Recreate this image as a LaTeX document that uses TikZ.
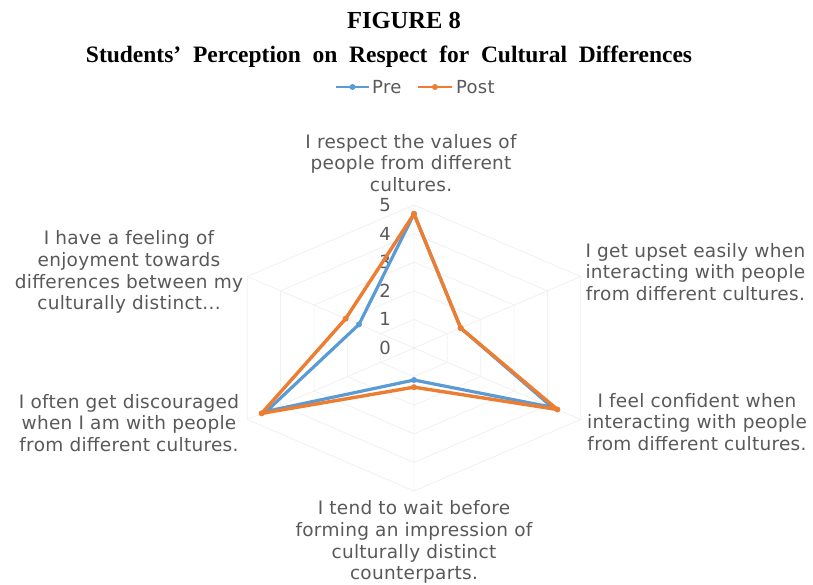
\documentclass[tikz,border=0pt]{standalone}
\usepackage{fontspec}
\setmainfont{DejaVu Sans}[LetterSpace=1.5]
\newfontfamily\titlefont{Liberation Serif}
\definecolor{preblue}{HTML}{5B9BD5}
\definecolor{postorange}{HTML}{ED7D31}
\definecolor{labelgray}{HTML}{595959}
\definecolor{gridgray}{HTML}{F0F0F0}

\tikzset{
  axislabel/.style={align=center, text=labelgray, font=\fontsize{18.5}{21.8}\selectfont},
  ticklabel/.style={text=labelgray, font=\fontsize{18}{20}\selectfont},
  preline/.style={draw=preblue, line width=3.2pt, line join=round},
  postline/.style={draw=postorange, line width=3.4pt, line join=round},
  dot/.style={circle, inner sep=0pt, minimum size=6pt}
}

\begin{document}
\begin{tikzpicture}[x=1pt,y=-1pt]
\useasboundingbox (0,0) rectangle (813,584);

\node[font=\titlefont\bfseries\fontsize{24.5}{28}\selectfont] at (404,20) (fig) {FIGURE 8};
\node[font=\titlefont\bfseries\fontsize{23.5}{26}\selectfont] at (389,57) (title) {Students’ \ Perception \ on \ Respect \ for \ Cultural \ Differences};

% legend
\coordinate (preA) at (336,87);
\coordinate (preB) at (369,87);
\coordinate (postA) at (418,87);
\coordinate (postB) at (452,87);
\path[preline, line width=2.4pt] (preA) to (preB);
\path[postline, line width=2.4pt] (postA) to (postB);
\node[dot, fill=preblue] at (352.5,87) (prem) {};
\node[dot, fill=postorange] at (435,87) (postm) {};
\node[ticklabel, anchor=west, inner sep=1pt] at (371,87) (pre) {Pre};
\node[ticklabel, anchor=west, inner sep=1pt] at (455,87) (post) {Post};

\begin{scope}[shift={(414,348)}, x=38.5pt, y=28.6pt]
% grid
\foreach \k in {1,...,5}
  \draw[gridgray, line width=0.8pt] (0,\k) -- (0.866*\k,0.5*\k) -- (0.866*\k,-0.5*\k) -- (0,-\k)
    -- (-0.866*\k,-0.5*\k) -- (-0.866*\k,0.5*\k) -- cycle;
\coordinate (o) at (0,0);
\coordinate (g1) at (0,5);
\coordinate (g2) at (4.33,2.5);
\coordinate (g3) at (4.33,-2.5);
\coordinate (g4) at (0,-5);
\coordinate (g5) at (-4.33,-2.5);
\coordinate (g6) at (-4.33,2.5);
\path[draw, gridgray, line width=0.8pt] (o) -- (g1) (o) -- (g2) (o) -- (g3) (o) -- (g4) (o) -- (g5) (o) -- (g6);

% tick labels
\node[ticklabel] at (-0.75,0) (t0) {0};
\node[ticklabel] at (-0.75,1) (t1) {1};
\node[ticklabel] at (-0.75,2) (t2) {2};
\node[ticklabel] at (-0.75,3) (t3) {3};
\node[ticklabel] at (-0.75,4) (t4) {4};
\node[ticklabel] at (-0.75,5) (t5) {5};

% pre
\coordinate (p1) at (0,4.69);
\coordinate (p2) at (1.212,0.7);
\coordinate (p3) at (3.594,-2.075);
\coordinate (p4) at (0,-1.12);
\coordinate (p5) at (-3.836,-2.215);
\coordinate (p6) at (-1.429,0.825);
\path[preline] (p1) -- (p2) -- (p3) -- (p4) -- (p5) -- (p6) -- cycle;
\node[dot, fill=preblue] at (p1) (pm1) {};
\node[dot, fill=preblue] at (p2) (pm2) {};
\node[dot, fill=preblue] at (p3) (pm3) {};
\node[dot, fill=preblue] at (p4) (pm4) {};
\node[dot, fill=preblue] at (p5) (pm5) {};
\node[dot, fill=preblue] at (p6) (pm6) {};

% post
\coordinate (q1) at (0,4.69);
\coordinate (q2) at (1.212,0.7);
\coordinate (q3) at (3.724,-2.15);
\coordinate (q4) at (0,-1.37);
\coordinate (q5) at (-3.958,-2.285);
\coordinate (q6) at (-1.775,1.025);
\path[postline] (q1) -- (q2) -- (q3) -- (q4) -- (q5) -- (q6) -- cycle;
\node[dot, fill=postorange] at (q1) (qm1) {};
\node[dot, fill=postorange] at (q2) (qm2) {};
\node[dot, fill=postorange] at (q3) (qm3) {};
\node[dot, fill=postorange] at (q4) (qm4) {};
\node[dot, fill=postorange] at (q5) (qm5) {};
\node[dot, fill=postorange] at (q6) (qm6) {};
\end{scope}

% axis labels
\node[axislabel] at (411,163) (respect) {I respect the values of\\people from different\\cultures.};
\node[axislabel, anchor=west] at (582,272) (upset) {I get upset easily when\\interacting with people\\from different cultures.};
\node[axislabel] at (697,422) (confident) {I feel confident when\\interacting with people\\from different cultures.};
\node[axislabel] at (414,542) (wait) {I tend to wait before\\forming an impression of\\culturally distinct\\counterparts.};
\node[axislabel] at (129,423) (discouraged) {I often get discouraged\\when I am with people\\from different cultures.};
\node[axislabel] at (129,272) (enjoy) {I have a feeling of\\enjoyment towards\\differences between my\\culturally distinct...};

\end{tikzpicture}
\end{document}
